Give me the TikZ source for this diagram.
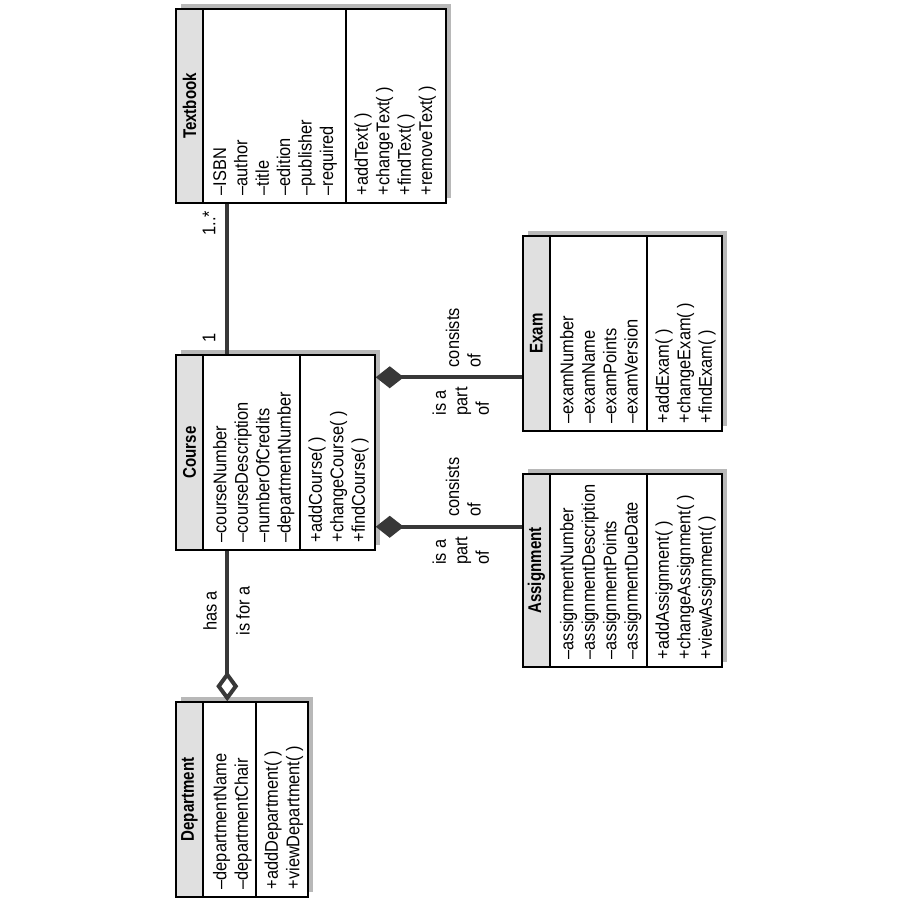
\documentclass[tikz,border=0pt]{standalone}
\usepackage{fontspec}
\setmainfont{Liberation Sans}[FakeStretch=0.89]
\newfontfamily\titlefont{Liberation Sans}[FakeStretch=0.82]
\usetikzlibrary{arrows.meta,fit,shadows,calc}

\tikzset{
  classbox/.style={draw, line width=.75pt, fill=white, inner sep=0pt,
    drop shadow={shadow xshift=2.6pt, shadow yshift=2.6pt, fill=black!28, opacity=1}},
  titleband/.style={draw, line width=.75pt, fill=black!12, inner sep=0pt},
  section/.style={draw, line width=.75pt, inner sep=0pt},
  classname/.style={rotate=90, font=\titlefont\bfseries\fontsize{9.2}{11}\selectfont},
  members/.style={rotate=90, anchor=north west, align=left, inner sep=0pt,
    font=\fontsize{9.2}{10.7}\selectfont},
  rolelabel/.style={rotate=90, align=left, font=\fontsize{9.2}{10.7}\selectfont},
  link/.style={draw=black!78, line width=2pt},
}

\begin{document}
\begin{tikzpicture}[x=0.5pt, y=-0.5pt]
\useasboundingbox (0,0) rectangle (900,900);

% Textbook
\node[classbox, fit={(176,9) (446,203)}] (textbook) {};
\node[titleband, fit={(176,9) (203,203)}] (textbook-t) {};
\node[section, fit={(346,9) (446,203)}] (textbook-o) {};
\node[classname] at (textbook-t) {Textbook};
\node[members] at ([shift={(4.5pt,4pt)}]textbook-t.south east) {–ISBN\\–author\\–title\\–edition\\–publisher\\–required};
\node[members] at ([shift={(4.5pt,4pt)}]textbook-o.south west) {+addText( )\\+changeText( )\\+findText( )\\+removeText( )};

% Course
\node[classbox, fit={(176,355) (375,550)}] (course) {};
\node[titleband, fit={(176,355) (203,550)}] (course-t) {};
\node[section, fit={(300,355) (375,550)}] (course-o) {};
\node[classname] at (course-t) {Course};
\node[members] at ([shift={(4.5pt,4pt)}]course-t.south east) {–courseNumber\\–courseDescription\\–numberOfCredits\\–departmentNumber};
\node[members] at ([shift={(4.5pt,4pt)}]course-o.south west) {+addCourse( )\\+changeCourse( )\\+findCourse( )};

% Exam
\node[classbox, fit={(523,236) (722,431)}] (exam) {};
\node[titleband, fit={(523,236) (550,431)}] (exam-t) {};
\node[section, fit={(647,236) (722,431)}] (exam-o) {};
\node[classname] at (exam-t) {Exam};
\node[members] at ([shift={(4.5pt,4pt)}]exam-t.south east) {–examNumber\\–examName\\–examPoints\\–examVersion};
\node[members] at ([shift={(4.5pt,4pt)}]exam-o.south west) {+addExam( )\\+changeExam( )\\+findExam( )};

% Assignment
\node[classbox, fit={(523,474) (722,667)}] (assignment) {};
\node[titleband, fit={(523,474) (550,667)}] (assignment-t) {};
\node[section, fit={(647,474) (722,667)}] (assignment-o) {};
\node[classname] at (assignment-t) {Assignment};
\node[members] at ([shift={(4.5pt,4pt)}]assignment-t.south east) {–assignmentNumber\\–assignmentDescription\\–assignmentPoints\\–assignmentDueDate};
\node[members] at ([shift={(4.5pt,4pt)}]assignment-o.south west) {+addAssignment( )\\+changeAssignment( )\\+viewAssignment( )};

% Department
\node[classbox, fit={(176,702) (308,897)}] (department) {};
\node[titleband, fit={(176,702) (203,897)}] (department-t) {};
\node[section, fit={(256,702) (308,897)}] (department-o) {};
\node[classname] at (department-t) {Department};
\node[members] at ([shift={(4.5pt,4pt)}]department-t.south east) {–departmentName\\–departmentChair};
\node[members] at ([shift={(4.5pt,4pt)}]department-o.south west) {+addDepartment( )\\+viewDepartment( )};

% associations
\draw[link] ([xshift=26pt]course.north west) -- ([xshift=26pt]textbook.south west)
  node[rolelabel, pos=.11, anchor=south, inner sep=5pt] {1}
  node[rolelabel, pos=.87, anchor=south, inner sep=5pt] {1..*};

\draw[link, {Diamond[length=14pt,width=11pt]}-] ([yshift=-11.5pt]course.north east) coordinate (c-e) -- (c-e -| exam.west)
  node[rolelabel, pos=.41, anchor=north west, inner sep=4pt] {consists\\of}
  node[rolelabel, pos=.32, anchor=north east, inner sep=4pt] {is a\\part\\of};

\draw[link, {Diamond[length=14pt,width=11pt]}-] ([yshift=12pt]course.south east) coordinate (c-a) -- (c-a -| assignment.west)
  node[rolelabel, pos=.41, anchor=north west, inner sep=4pt] {consists\\of}
  node[rolelabel, pos=.32, anchor=north east, inner sep=4pt] {is a\\part\\of};

\draw[link, -{Diamond[open, fill=white, length=15pt, width=11pt]}] ([xshift=26pt]course.south west) -- ([xshift=26pt]department.north west)
  node[rolelabel, pos=.4, anchor=south, inner sep=4.2pt] {has a}
  node[rolelabel, pos=.4, anchor=north, inner sep=3.5pt] {is for a};
\end{tikzpicture}
\end{document}
